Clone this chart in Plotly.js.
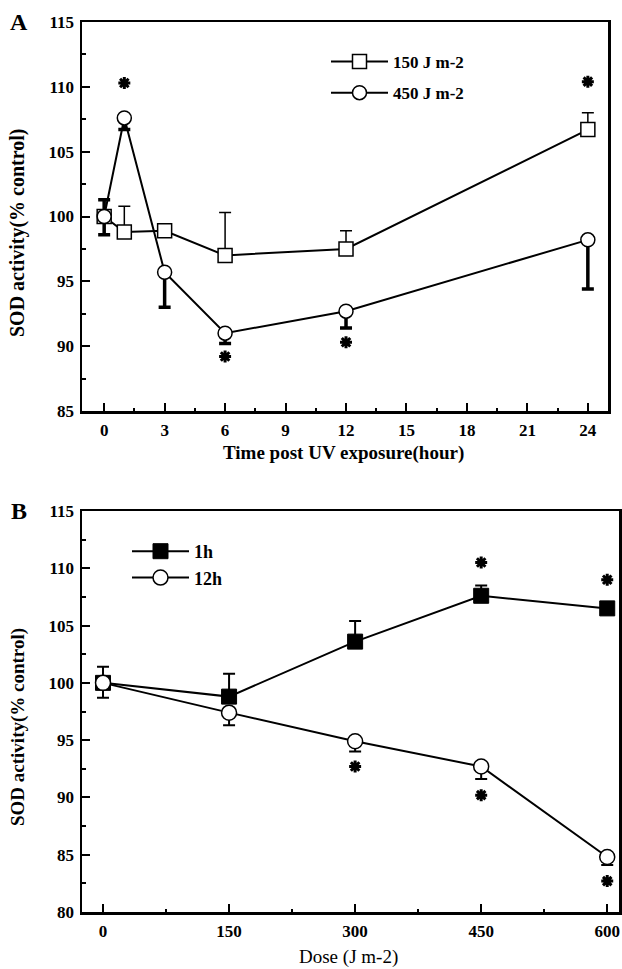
<!DOCTYPE html>
<html><head><meta charset="utf-8">
<script src="https://cdn.plot.ly/plotly-3.0.1.min.js"></script>
<style>html,body{margin:0;padding:0;background:#fff}</style>
</head><body><div id="chart" style="width:622px;height:969px"></div>
<script>
// ---------- Panel A: time course ----------
const timeHours = [0, 1, 3, 6, 12, 24];
const a150 = [100, 98.8, 98.9, 97.0, 97.5, 106.7];
const a150ErrPlus = [0, 2.0, 0, 3.3, 1.4, 1.3];
const a450 = [100, 107.6, 95.7, 91.0, 92.7, 98.2];
const a450ErrPlus = [1.3, 0, 0, 0, 0, 0];
const a450ErrMinus = [1.4, 0.9, 2.7, 0.8, 1.3, 3.8];
const aSigX = [1, 24, 6, 12];
const aSigY = [110.3, 110.4, 89.2, 90.3];
const aTicks = [0, 3, 6, 9, 12, 15, 18, 21, 24];
const aNames = ['150 J m-2', '450 J m-2'];

// ---------- Panel B: dose response ----------
const doses = [0, 150, 300, 450, 600];
const b1h = [100, 98.8, 103.6, 107.6, 106.5];
const b1hErrPlus = [0, 2.0, 1.8, 0.9, 0];
const b12h = [100, 97.4, 94.9, 92.7, 84.8];
const b12hErrPlus = [1.4, 0, 0, 0, 0];
const b12hErrMinus = [1.3, 1.1, 0.9, 1.1, 0.7];
const bSigX = [450, 600, 300, 450, 600];
const bSigY = [110.5, 109.0, 92.7, 90.2, 82.7];
const bTicks = [0, 150, 300, 450, 600];
const bNames = ['1h', '12h'];

const SERIF = 'Liberation Serif, Times New Roman, serif';
const zeros = n => new Array(n).fill(0);
const sigMarker = {symbol: 'asterisk-open', size: 10, color: '#000', line: {color: '#000', width: 3}};

const traces = [
  {x: timeHours, y: a150, name: aNames[0], xaxis: 'x', yaxis: 'y', legend: 'legend', legendgroup: 'a1',
   mode: 'lines+markers', line: {color: '#000', width: 2},
   marker: {symbol: 'square', size: 14, color: '#fff', line: {color: '#000', width: 1.5}},
   error_y: {type: 'data', symmetric: false, array: a150ErrPlus, arrayminus: zeros(6), color: '#000', thickness: 1.5, width: 6}},
  {x: timeHours, y: a450, name: aNames[1], xaxis: 'x', yaxis: 'y', legend: 'legend', legendgroup: 'a2',
   mode: 'lines+markers', line: {color: '#000', width: 2},
   marker: {symbol: 'circle', size: 14, color: '#fff', line: {color: '#000', width: 1.5}},
   error_y: {type: 'data', symmetric: false, array: a450ErrPlus, arrayminus: a450ErrMinus, color: '#000', thickness: 3.5, width: 6}},
  {x: aSigX, y: aSigY, xaxis: 'x', yaxis: 'y', mode: 'markers', showlegend: false, hoverinfo: 'skip', marker: sigMarker},
  {x: doses, y: b1h, name: bNames[0], xaxis: 'x2', yaxis: 'y2', legend: 'legend2',
   mode: 'lines+markers', line: {color: '#000', width: 2},
   marker: {symbol: 'square', size: 15, color: '#000', line: {color: '#000', width: 1}},
   error_y: {type: 'data', symmetric: false, array: b1hErrPlus, arrayminus: zeros(5), color: '#000', thickness: 2, width: 6}},
  {x: doses, y: b12h, name: bNames[1], xaxis: 'x2', yaxis: 'y2', legend: 'legend2',
   mode: 'lines+markers', line: {color: '#000', width: 2},
   marker: {symbol: 'circle', size: 15, color: '#fff', line: {color: '#000', width: 1.5}},
   error_y: {type: 'data', symmetric: false, array: b12hErrPlus, arrayminus: b12hErrMinus, color: '#000', thickness: 2, width: 6}},
  {x: bSigX, y: bSigY, xaxis: 'x2', yaxis: 'y2', mode: 'markers', showlegend: false, hoverinfo: 'skip', marker: sigMarker}
];

const W = 622, H = 969;
const px = v => v / W, py = v => 1 - v / H;

function axisCommon(extra) {
  return Object.assign({
    showline: true, linewidth: 2.5, linecolor: '#000', mirror: true,
    ticks: 'inside', ticklen: 8, tickwidth: 2, tickcolor: '#000',
    showgrid: false, zeroline: false, fixedrange: true, ticklabelstandoff: 2,
    tickfont: {family: SERIF, size: 17, color: '#000', weight: 'bold'}
  }, extra);
}
function note(text, x, y, size, bold, angle) {
  return {text: text, xref: 'paper', yref: 'paper', x: px(x), y: py(y), xanchor: 'center', yanchor: 'middle',
    showarrow: false, textangle: angle || 0,
    font: {family: SERIF, size: size, color: '#000', weight: bold ? 'bold' : 'normal'}};
}

const layout = {
  width: W, height: H,
  margin: {l: 0, r: 0, t: 0, b: 0},
  paper_bgcolor: '#fff', plot_bgcolor: '#fff',
  showlegend: true,
  xaxis: axisCommon({domain: [px(82), px(608)], anchor: 'y', range: [-1.1, 25],
    tickmode: 'array', tickvals: aTicks,
    minor: {ticks: 'inside', ticklen: 3, tickwidth: 2, tickcolor: '#000', showgrid: false, tick0: 1.5, dtick: 3}}),
  yaxis: axisCommon({domain: [1 - 411 / H, 1 - 22 / H], anchor: 'x', range: [85, 115], dtick: 5, tick0: 85,
    minor: {ticks: 'inside', ticklen: 4, tickwidth: 2, tickcolor: '#000', showgrid: false, tick0: 87.5, dtick: 5}}),
  xaxis2: axisCommon({domain: [px(82), px(619)], anchor: 'y2', range: [-25, 614],
    tickmode: 'array', tickvals: bTicks,
    minor: {ticks: 'inside', ticklen: 3, tickwidth: 2, tickcolor: '#000', showgrid: false, tick0: 75, dtick: 150}}),
  yaxis2: axisCommon({domain: [1 - 912 / H, 1 - 511 / H], anchor: 'x2', range: [80, 115], dtick: 5, tick0: 80,
    minor: {ticks: 'inside', ticklen: 4, tickwidth: 2, tickcolor: '#000', showgrid: false, tick0: 82.5, dtick: 5}}),
  legend: {x: px(326), y: py(44), xanchor: 'left', yanchor: 'top', bgcolor: 'rgba(0,0,0,0)',
    itemwidth: 57, tracegroupgap: 6,
    font: {family: SERIF, size: 17, color: '#000', weight: 'bold'}},
  legend2: {x: px(127), y: py(533), xanchor: 'left', yanchor: 'top', bgcolor: 'rgba(0,0,0,0)',
    itemwidth: 57, tracegroupgap: 0,
    font: {family: SERIF, size: 18, color: '#000', weight: 'bold'}},
  annotations: [
    note('A', 19, 22, 24, true),
    note('B', 19, 511, 24, true),
    note('SOD activity(% control)', 18, 233, 20, true, -90),
    note('Time post UV exposure(hour)', 343, 453, 19, true),
    note('SOD activity(% control)', 18, 727, 19, true, -90),
    note('Dose (J m-2)', 348, 957, 19, false)
  ]
};

Plotly.newPlot('chart', traces, layout, {displayModeBar: false, staticPlot: true});
</script>
</body></html>
